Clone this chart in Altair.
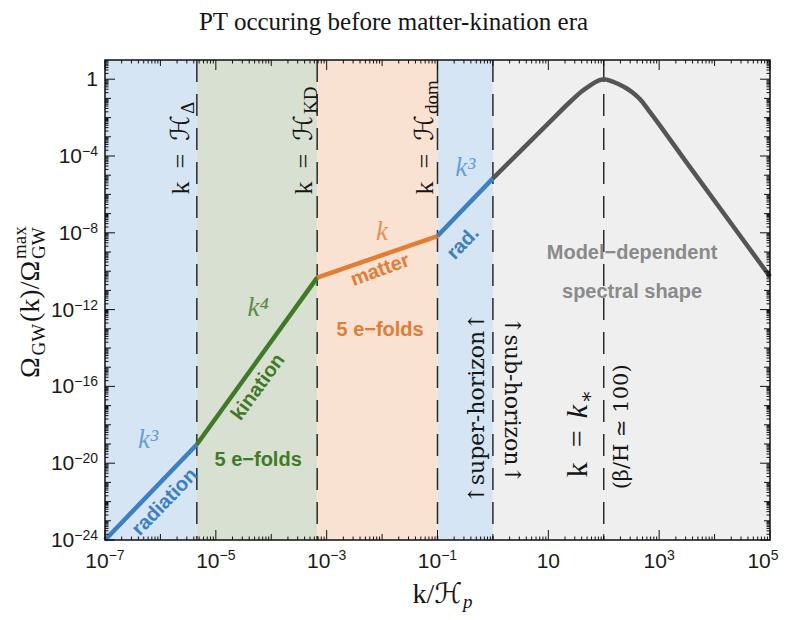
import altair as alt
import pandas as pd

W, H = 665, 480
X_DOMAIN = [1e-7, 1e5]
Y_DOMAIN = [1e-24, 10.0]

# ---- data -------------------------------------------------------------
band_k0 = [1e-7, 4.54e-6, 6.74e-4, 0.1, 1.0]
band_k1 = [4.54e-6, 6.74e-4, 0.1, 1.0, 1e5]
band_fill = ["#d5e5f4", "#d8e0d1", "#f9e2d2", "#d5e5f4", "#efefef"]

dash_k = [4.54e-6, 6.74e-4, 0.1, 1.0, 100.0]

rad1_k = [1e-7, 4.54e-6]
rad1_om = [1e-24, 9.4e-20]
kin_k = [4.54e-6, 6.74e-4]
kin_om = [9.4e-20, 4.6e-11]
mat_k = [6.74e-4, 0.1]
mat_om = [4.6e-11, 6.8e-9]
rad2_k = [0.1, 1.0]
rad2_om = [6.8e-9, 6.8e-6]
model_k = [1.0, 3.16, 10.0, 25.1, 39.8, 56.2, 75.9, 87.1, 100.0, 114.8, 131.8,
           158.5, 199.5, 251.2, 331.1, 457.1, 631.0, 3160.0, 31600.0, 1e5]
model_om = [6.8e-6, 1.86e-4, 5.0e-3, 6.9e-2, 0.229, 0.468, 0.776, 0.912, 1.0,
            0.925, 0.815, 0.672, 0.505, 0.350, 0.205, 0.0871, 0.0263, 4.4e-5,
            4.9e-9, 5.2e-11]

seg_names = ["rad1", "kin", "mat", "rad2", "model"]
seg_colors = ["#3b80c3", "#3f7b27", "#e27d36", "#3b80c3", "#555555"]

x_lab_val = [1e-7, 1e-5, 1e-3, 1e-1, 10.0, 1e3, 1e5]
x_lab_exp = ["−7", "−5", "−3", "−1", "", "3", "5"]
x_lab_shift = [0, 0, 0, 0, 0, 0, -7]
y_lab_val = [1e-24, 1e-20, 1e-16, 1e-12, 1e-8, 1e-4, 1.0]
y_lab_base = ["10", "10", "10", "10", "10", "10", "1"]
y_lab_exp = ["−24", "−20", "−16", "−12", "−8", "−4", ""]

# bold labels along the curve
lab_text = ["radiation", "kination", "5 e−folds", "matter", "5 e−folds", "rad.",
            "Model−dependent", "spectral shape"]
lab_k = [1.2e-6, 5.8e-5, 5.8e-5, 9.2e-3, 9.2e-3, 0.29, 324.0, 324.0]
lab_om = [9.5e-23, 9.3e-17, 1.5e-20, 1.15e-10, 8.7e-14, 2.9e-9, 8.9e-10, 8.3e-12]
lab_angle = [314, 306, 0, 340, 0, 314, 0, 0]
lab_color = ["#3b80c3", "#3f7b27", "#3f7b27", "#e27d36", "#e27d36", "#3b80c3",
             "#8a8a8a", "#8a8a8a"]

# power-law labels
pw_text = ["k³", "k⁴", "k", "k³"]
pw_k = [6.0e-7, 5.8e-5, 1e-2, 0.316]
pw_om = [1.6e-19, 1.2e-12, 1.1e-8, 2.4e-5]
pw_color = ["#6c9fd3", "#5d8c48", "#e8914f", "#6c9fd3"]

# vertical "k = H_x" labels
hl_sub = ["Δ", "KD", "dom"]
hl_dy = [-8, -5, -5]
hl_om = 0.0136

SERIF = "Liberation Serif, DejaVu Serif, DejaVu Sans"
WSERIF = "DejaVu Serif, Liberation Serif"
SANS = "Liberation Sans, Arial, DejaVu Sans"

PPD_X = W / 12.0   # pixels per decade
PPD_Y = H / 25.0

xs = alt.Scale(type="log", domain=X_DOMAIN, nice=False)
ys = alt.Scale(type="log", domain=Y_DOMAIN, nice=False)


def enc(ch):
    return ch.encode(x=alt.X("k:Q", scale=xs, axis=None),
                     y=alt.Y("om:Q", scale=ys, axis=None))


# ---- layers -----------------------------------------------------------
bands = alt.Chart(pd.DataFrame({
    "k0": band_k0, "k1": band_k1,
    "y0": [Y_DOMAIN[0]] * 5, "y1": [Y_DOMAIN[1]] * 5, "c": band_fill,
})).mark_rect(opacity=1).encode(
    x=alt.X("k0:Q", scale=xs, axis=None), x2="k1:Q",
    y=alt.Y("y0:Q", scale=ys, axis=None), y2="y1:Q",
    color=alt.Color("c:N", scale=None),
)

rules = alt.Chart(pd.DataFrame({"k": dash_k})).mark_rule(
    color="#2a2a2a", strokeWidth=1.5, strokeDash=[22, 12]
).encode(x=alt.X("k:Q", scale=xs, axis=None))

rows = []
for name, ks, oms in zip(seg_names, [rad1_k, kin_k, mat_k, rad2_k, model_k],
                         [rad1_om, kin_om, mat_om, rad2_om, model_om]):
    for i, (k, o) in enumerate(zip(ks, oms)):
        rows.append({"seg": name, "k": k, "om": o, "i": i})
lines = alt.Chart(pd.DataFrame(rows)).mark_line(
    strokeWidth=4.5, interpolate="monotone", strokeCap="butt"
).encode(
    x=alt.X("k:Q", scale=xs, axis=None),
    y=alt.Y("om:Q", scale=ys, axis=None),
    color=alt.Color("seg:N", scale=alt.Scale(domain=seg_names, range=seg_colors), legend=None),
    detail="seg:N",
    order="i:Q",
)

bold_labels = alt.Chart(pd.DataFrame({
    "t": lab_text, "k": lab_k, "om": lab_om, "a": lab_angle, "c": lab_color
})).mark_text(font=SANS, fontSize=20, fontWeight="bold", baseline="middle").encode(
    x=alt.X("k:Q", scale=xs, axis=None), y=alt.Y("om:Q", scale=ys, axis=None),
    text="t:N", angle=alt.Angle("a:Q", scale=None), color=alt.Color("c:N", scale=None),
)

pw_labels = alt.Chart(pd.DataFrame({
    "t": pw_text, "k": pw_k, "om": pw_om, "c": pw_color
})).mark_text(font=SERIF, fontSize=27, fontStyle="italic", baseline="middle").encode(
    x=alt.X("k:Q", scale=xs, axis=None), y=alt.Y("om:Q", scale=ys, axis=None),
    text="t:N", color=alt.Color("c:N", scale=None),
)


def tx(t, k, om, size, font=SERIF, style="normal", weight="normal", angle=0,
       align="center", baseline="alphabetic", dx=0, dy=0, color="#151515"):
    df = pd.DataFrame({"k": [k], "om": [om], "t": [t]})
    return enc(alt.Chart(df).mark_text(
        font=font, fontSize=size, fontStyle=style, fontWeight=weight, angle=angle,
        align=align, baseline=baseline, dx=dx, dy=dy, color=color
    )).encode(text="t:N")


def px(t, xv, yv, size, font=SERIF, style="normal", weight="normal", angle=0,
       align="left", baseline="alphabetic", dx=0, dy=0, color="#151515"):
    df = pd.DataFrame({"t": [t]})
    return alt.Chart(df).mark_text(
        font=font, fontSize=size, fontStyle=style, fontWeight=weight, angle=angle,
        align=align, baseline=baseline, dx=dx, dy=dy, color=color
    ).encode(x=alt.value(xv), y=alt.value(yv), text="t:N")


annots = []
for kk, sub, ddy in zip(dash_k[:3], hl_sub, hl_dy):
    annots.append(tx("k\u2002=\u2002ℋ", kk, hl_om, 26, angle=270, align="right", dy=ddy))
    annots.append(tx(sub, kk, hl_om, 19, angle=270, align="left", dx=1, dy=ddy + 5))

# k = k*
annots.append(tx("k\u2002=", 50.0, 2.2e-18, 30, angle=270, align="right", dx=-12))
annots.append(tx("k", 50.0, 2.2e-18, 30, style="italic", angle=270, align="left"))
annots.append(tx("∗", 50.0, 2.2e-18, 20, angle=270, align="left", dx=15, dy=6))
annots.append(tx("(β/H ≃ 100)", 275.0, 7.8e-19, 21, font=WSERIF, angle=270, align="center"))
annots.append(tx("↑super-horizon↑", 0.69, 7.5e-18, 22, font=WSERIF, angle=270, align="center"))
annots.append(tx("↑sub-horizon↑", 1.66, 1.95e-17, 22, font=WSERIF, angle=90, align="center"))

# y axis title pieces
YT_X, YT_Y = -66, 318
annots.append(px("Ω", YT_X, YT_Y, 28, angle=270))
annots.append(px("GW", YT_X, YT_Y, 19, angle=270, dx=22.5, dy=6))
annots.append(px("(k)/Ω", YT_X, YT_Y, 28, angle=270, dx=56))
annots.append(px("GW", YT_X, YT_Y, 19, angle=270, dx=119, dy=6))
annots.append(px("max", YT_X, YT_Y, 19, angle=270, dx=119, dy=-13))

# x axis title
annots.append(px("k/ℋ", 357, 543, 28, align="right"))
annots.append(px("p", 357, 543, 19, style="italic", align="left", dx=1, dy=5))

# title
annots.append(px("PT occuring before matter-kination era", W / 2 - 44, -30, 25, align="center"))

# ---- tick labels (as text, 10 + raised exponent) ------------------------
BASE_FS, EXP_FS = 21, 14


def text_w(s, fs):
    return sum((0.584 if ch == "−" else 0.556) * fs for ch in s)


tick_labels = []
for v, e, sh in zip(x_lab_val, x_lab_exp, x_lab_shift):
    tot = text_w("10", BASE_FS) + text_w(e, EXP_FS)
    left = -tot / 2 + sh
    tick_labels.append(tx("10", v, Y_DOMAIN[0], BASE_FS, font=SANS, align="left",
                          dx=left, dy=28, color="#1a1a1a"))
    if e:
        tick_labels.append(tx(e, v, Y_DOMAIN[0], EXP_FS, font=SANS, align="left",
                              dx=left + text_w("10", BASE_FS), dy=20, color="#1a1a1a"))
for v, b, e in zip(y_lab_val, y_lab_base, y_lab_exp):
    ew = text_w(e, EXP_FS)
    tick_labels.append(tx(b, X_DOMAIN[0], v, BASE_FS, font=SANS, align="right",
                          dx=-7 - ew, dy=7, color="#1a1a1a"))
    if e:
        tick_labels.append(tx(e, X_DOMAIN[0], v, EXP_FS, font=SANS, align="right",
                              dx=-7, dy=0, color="#1a1a1a"))

# ---- ticks (inside the frame) and frame ---------------------------------
x_major = list(x_lab_val)
x_dec = [10.0 ** e for e in range(-6, 5, 2)]
x_minor = [m * 10.0 ** e for e in range(-7, 5) for m in range(2, 10)]
y_major = list(y_lab_val)
y_dec = [10.0 ** e for e in range(-23, 1) if e % 4 != 0]
y_minor = [m * 10.0 ** e for e in range(-24, 1) for m in range(2, 10)]

tick_rows = []
for vals, L in ((x_major, 10), (x_dec, 6), (x_minor, 3.5)):
    for v in vals:
        tick_rows.append({"k": v, "k2": v, "om": Y_DOMAIN[0], "om2": Y_DOMAIN[0] * 10 ** (L / PPD_Y)})
        tick_rows.append({"k": v, "k2": v, "om": Y_DOMAIN[1], "om2": Y_DOMAIN[1] / 10 ** (L / PPD_Y)})
for vals, L in ((y_major, 10), (y_dec, 6), (y_minor, 3.5)):
    for v in vals:
        tick_rows.append({"k": X_DOMAIN[0], "k2": X_DOMAIN[0] * 10 ** (L / PPD_X), "om": v, "om2": v})
        tick_rows.append({"k": X_DOMAIN[1], "k2": X_DOMAIN[1] / 10 ** (L / PPD_X), "om": v, "om2": v})

tick_marks = alt.Chart(pd.DataFrame(tick_rows)).mark_rule(
    color="#111111", strokeWidth=1
).encode(
    x=alt.X("k:Q", scale=xs, axis=None), x2="k2:Q",
    y=alt.Y("om:Q", scale=ys, axis=None), y2="om2:Q",
)

frame = alt.Chart(pd.DataFrame({
    "k0": [X_DOMAIN[0]], "k1": [X_DOMAIN[1]], "y0": [Y_DOMAIN[0]], "y1": [Y_DOMAIN[1]]
})).mark_rect(fillOpacity=0, stroke="#111111", strokeWidth=1.5).encode(
    x=alt.X("k0:Q", scale=xs, axis=None), x2="k1:Q",
    y=alt.Y("y0:Q", scale=ys, axis=None), y2="y1:Q",
)

chart = alt.layer(
    bands, rules, lines, bold_labels, pw_labels, *annots, *tick_labels, tick_marks, frame
).properties(
    width=W, height=H,
    autosize=alt.AutoSizeParams(type="none"),
    padding={"left": 97, "top": 52, "right": 10, "bottom": 72},
).configure_view(stroke=None)

chart.save("out.html", embed_options={"renderer": "svg", "actions": False})
